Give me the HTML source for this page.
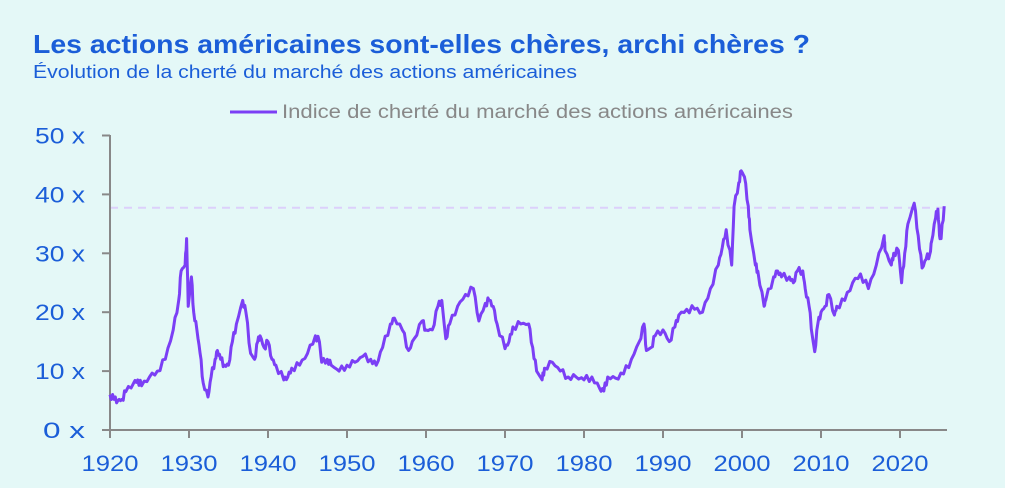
<!DOCTYPE html>
<html><head><meta charset="utf-8"><style>
html,body{margin:0;padding:0;background:#fff;}
#c{position:relative;width:1005px;height:488px;background:#e4f8f7;overflow:hidden;font-family:"Liberation Sans",sans-serif;}
</style></head><body>
<div id="c">
<svg width="1005" height="488" xmlns="http://www.w3.org/2000/svg" style="position:absolute;left:0;top:0">
<text x="33" y="53" font-family="Liberation Sans, sans-serif" font-weight="bold" font-size="26" fill="#1b5ed8" textLength="777" lengthAdjust="spacingAndGlyphs">Les actions américaines sont-elles chères, archi chères ?</text>
<text x="33" y="78" font-family="Liberation Sans, sans-serif" font-size="18" fill="#1b5ed8" textLength="544" lengthAdjust="spacingAndGlyphs">Évolution de la cherté du marché des actions américaines</text>
<line x1="230" y1="112" x2="277" y2="112" stroke="#7b3ff5" stroke-width="3"/>
<text x="282" y="118" font-family="Liberation Sans, sans-serif" font-size="19" fill="#888" textLength="511" lengthAdjust="spacingAndGlyphs">Indice de cherté du marché des actions américaines</text>
<line x1="110" y1="207.7" x2="947" y2="207.7" stroke="#dcd0fb" stroke-width="2" stroke-dasharray="8,6"/>
<g stroke="#888" stroke-width="2" fill="none">
<line x1="110" y1="135" x2="110" y2="431"/>
<line x1="109" y1="430" x2="947" y2="430"/>
</g>
<g id="yt" stroke="#888" stroke-width="2"></g>
<g id="xt" stroke="#888" stroke-width="2"></g>
<g id="yl" font-family="Liberation Sans, sans-serif" font-size="22" fill="#1b5ed8" text-anchor="end"></g>
<g id="xl" font-family="Liberation Sans, sans-serif" font-size="22" fill="#1b5ed8" text-anchor="middle"></g>
<path id="p" fill="none" stroke="#7b3ff5" stroke-width="3" stroke-linejoin="round"/>
</svg>
</div>
<script>
var X=function(y){return 110+(y-1920)*7.9},Y=function(v){return 430-v*5.89};
var yt='',yl='',xt='',xl='';
for(var v=0;v<=50;v+=10){yt+='<line x1="102" y1="'+Y(v)+'" x2="110" y2="'+Y(v)+'"/>';yl+='<text x="85" y="'+(Y(v)+8)+'" textLength="'+(v?50:42)+'" lengthAdjust="spacingAndGlyphs">'+v+' x</text>';}
for(var y=1920;y<=2020;y+=10){xt+='<line x1="'+X(y)+'" y1="430" x2="'+X(y)+'" y2="438"/>';xl+='<text x="'+X(y)+'" y="471" textLength="57" lengthAdjust="spacingAndGlyphs">'+y+'</text>';}
document.getElementById('yt').innerHTML=yt;document.getElementById('yl').innerHTML=yl;
document.getElementById('xt').innerHTML=xt;document.getElementById('xl').innerHTML=xl;
var d=[1920,6,1920.5,5.2,1921,5,1921.5,5.2,1922,6.5,1923,8,1923.5,8.5,1924,7.5,1925,9,1926,10,1927,12,1928,17,1928.7,22,1929,27,1929.5,28,1929.7,32.5,1929.9,21,1930.3,26,1930.6,20,1931,17,1931.4,13,1931.8,8,1932.4,5.6,1932.8,9,1933.3,12,1933.6,13.5,1934,12,1934.5,11,1935,11,1935.5,15,1936,18,1936.8,22,1937.2,20,1937.8,13,1938.3,12,1938.7,15,1939,16,1939.5,14,1940,15,1940.5,12,1941,11,1942,8.5,1942.5,9,1943,10.5,1944,11,1945,13,1946,16,1946.5,15,1946.8,11.5,1947.5,12,1948,11,1949,10,1950,11,1951,11.5,1952,12.5,1953,12,1953.7,11,1954.5,14,1955.5,18,1956,19,1957,17,1957.8,13.5,1958.5,15.5,1959.5,18.5,1960,17,1960.8,17,1961.5,21,1962,22,1962.5,15.5,1963,18,1964,21,1965,23,1966,24,1966.7,18.5,1967.5,21.5,1968,22,1968.5,21,1969,18,1970,13.8,1970.5,15,1971,17.5,1972,18,1973,18,1973.5,14,1974,10,1974.7,8.5,1975,10.5,1976,11.5,1977,10,1978,9,1979,9,1980,8.5,1981,9,1982,7,1982.5,6.6,1983,9,1984,8.8,1985,9.5,1986,12,1987,15,1987.6,18,1987.9,13.5,1988.5,14,1989,16,1990,17,1990.8,15,1991.5,17.5,1992,19.5,1993,20.5,1994,20.5,1995,20,1996,24,1997,28,1997.5,31,1998,34,1998.7,28,1999,38,1999.6,42,1999.9,44,2000.3,43,2000.8,38,2001,34,2001.7,28,2002,27,2002.8,21,2003,22,2004,26,2004.5,27,2005,26,2006,26,2006.5,25,2007,27,2007.7,27,2008,24,2008.5,21,2008.9,16,2009.2,13.3,2009.6,18,2010,20,2010.5,21,2011,23,2011.7,19.5,2012,21,2013,22,2014,25,2015,26.5,2016,24,2017,28,2018,33,2018.1,30.5,2018.9,28,2019.2,30,2019.8,30.5,2020.2,25,2020.6,30,2021,35,2021.8,38.5,2022.3,33,2022.8,27.5,2023.3,29,2023.8,30,2024,32,2024.5,36,2024.8,37.5,2025.0,33,2025.2,32.5,2025.6,38];
var s='';
for(var i=0;i<d.length;i+=2){
  var x=X(d[i]),v=d[i+1];
  if(i>0){var px=X(d[i-2]),pv=d[i-1];var n=3;for(var k=1;k<n;k++){var t=k/n;var jv=pv+(v-pv)*t+Math.sin(i*7.3+k*3.1)*0.6;s+='L'+(px+(x-px)*t).toFixed(1)+' '+Y(jv).toFixed(1);}}
  s+=(i?'L':'M')+x.toFixed(1)+' '+Y(v).toFixed(1);
}
document.getElementById('p').setAttribute('d',s);
</script>
</body></html>
